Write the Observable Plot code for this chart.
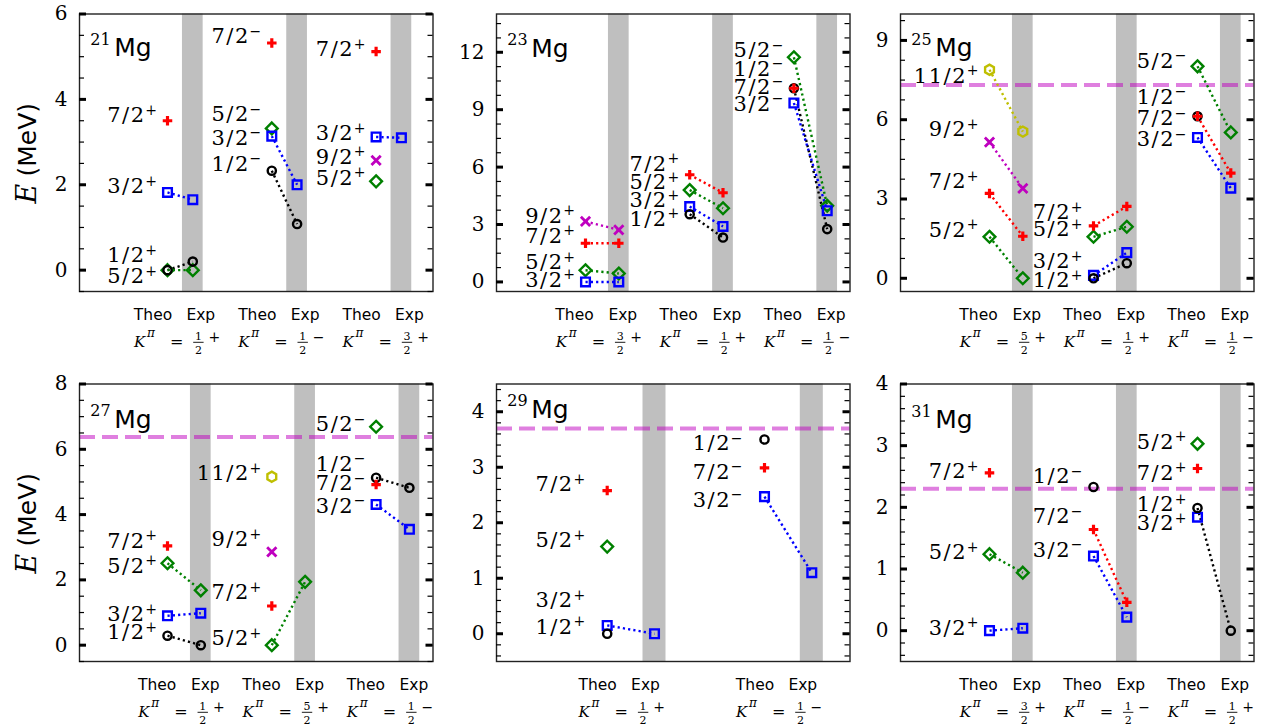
<!DOCTYPE html>
<html><head><meta charset="utf-8">
<script src="https://cdn.jsdelivr.net/npm/d3@7"></script>
<script src="https://cdn.jsdelivr.net/npm/@observablehq/plot@0.6"></script>
<style>
body{margin:0;background:#fff;}
#fig{position:relative;width:1267px;height:727px;overflow:hidden;background:#fff;}
.panel{position:absolute;}
[aria-description="lbl"] text{letter-spacing:1.5px;}
</style></head><body><div id="fig"></div>
<script>
// ---------------- data ----------------
const isotopes = ["21", "23", "25", "27", "29", "31"];
// K^pi of each band: [numerator of K/2, parity]
const bandK = [
  [["1","+"],["1","−"],["3","+"]],
  [["3","+"],["1","+"],["1","−"]],
  [["5","+"],["1","+"],["1","−"]],
  [["1","+"],["5","+"],["1","−"]],
  [["1","+"],["1","−"]],
  [["3","+"],["1","−"],["1","+"]]
];
const separationEnergy = [null, null, 7.31, 6.38, 3.70, 2.30];
const yDomains = [[-0.5, 6], [-0.5, 14], [-0.5, 10], [-0.5, 8], [-0.5, 4.5], [-0.5, 4]];
const yMajorTicks = [[0,2,4,6], [0,3,6,9,12], [0,3,6,9], [0,2,4,6,8], [0,1,2,3,4], [0,1,2,3,4]];
const yMinorStep = [0.5, 0.75, 0.75, 0.5, 0.2, 0.2];

// theory: [band, J, parity, E (MeV), label E]
const theo21 = [
  [0,"1/2","+",0.00,0.18],[0,"5/2","+",0.00,-0.31],[0,"3/2","+",1.82,1.80],[0,"7/2","+",3.50,3.46],
  [1,"7/2","−",5.32,5.31],[1,"5/2","−",3.32,3.49],[1,"3/2","−",3.14,2.94],[1,"1/2","−",2.33,2.33],
  [2,"7/2","+",5.12,5.01],[2,"3/2","+",3.12,3.04],[2,"9/2","+",2.57,2.49],[2,"5/2","+",2.08,2.00]
];
const exp21 = [[0,"1/2",0.20],[0,"5/2",0.00],[0,"3/2",1.65],[1,"3/2",2.00],[1,"1/2",1.08],[2,"3/2",3.10]];

const theo23 = [
  [0,"3/2","+",0.00,-0.26],[0,"5/2","+",0.61,0.66],[0,"7/2","+",2.02,2.06],[0,"9/2","+",3.16,3.10],
  [1,"7/2","+",5.60,5.81],[1,"5/2","+",4.80,4.85],[1,"3/2","+",3.94,3.89],[1,"1/2","+",3.54,2.93],
  [2,"5/2","−",11.74,11.74],[2,"1/2","−",10.12,10.77],[2,"7/2","−",10.12,9.82],[2,"3/2","−",9.35,8.95]
];
const exp23 = [[0,"3/2",0.00],[0,"5/2",0.44],[0,"7/2",2.02],[0,"9/2",2.72],
  [1,"7/2",4.66],[1,"5/2",3.85],[1,"3/2",2.90],[1,"1/2",2.32],
  [2,"5/2",3.98],[2,"3/2",3.72],[2,"1/2",2.76]];

const theo25 = [
  [0,"11/2","+",7.89,7.39],[0,"9/2","+",5.15,5.37],[0,"7/2","+",3.21,3.41],[0,"5/2","+",1.57,1.58],
  [1,"7/2","+",1.98,2.23],[1,"5/2","+",1.57,1.60],[1,"3/2","+",0.11,0.38],[1,"1/2","+",0.00,-0.34],
  [2,"5/2","−",8.02,7.96],[2,"1/2","−",6.13,6.60],[2,"7/2","−",6.13,5.80],[2,"3/2","−",5.33,4.99]
];
const exp25 = [[0,"11/2",5.55],[0,"9/2",3.40],[0,"7/2",1.59],[0,"5/2",0.00],
  [1,"7/2",2.72],[1,"5/2",1.95],[1,"3/2",0.97],[1,"1/2",0.57],
  [2,"5/2",5.52],[2,"7/2",3.98],[2,"3/2",3.41]];

const theo27 = [
  [0,"7/2","+",3.04,2.99],[0,"5/2","+",2.51,2.22],[0,"3/2","+",0.90,0.74],[0,"1/2","+",0.29,0.18],
  [1,"11/2","+",5.16,5.05],[1,"9/2","+",2.86,3.03],[1,"7/2","+",1.20,1.40],[1,"5/2","+",0.00,0.00],
  [2,"5/2","−",6.69,6.55],[2,"1/2","−",5.13,5.35],[2,"7/2","−",4.92,4.74],[2,"3/2","−",4.31,4.06]
];
const exp27 = [[0,"5/2",1.68],[0,"3/2",0.98],[0,"1/2",0.00],[1,"5/2",1.94],[2,"1/2",4.82],[2,"3/2",3.55]];

const theo29 = [
  [0,"7/2","+",2.58,2.57],[0,"5/2","+",1.57,1.56],[0,"3/2","+",0.15,0.48],[0,"1/2","+",0.00,0.00],
  [1,"1/2","−",3.50,3.31],[1,"7/2","−",2.99,2.79],[1,"3/2","−",2.47,2.29]
];
const exp29 = [[0,"3/2",0.00],[1,"3/2",1.10]];

const theo31 = [
  [0,"7/2","+",2.56,2.47],[0,"5/2","+",1.24,1.16],[0,"3/2","+",0.00,-0.07],
  [1,"1/2","−",2.33,2.39],[1,"7/2","−",1.64,1.74],[1,"3/2","−",1.21,1.20],
  [2,"5/2","+",3.03,2.95],[2,"7/2","+",2.63,2.45],[2,"1/2","+",1.99,1.94],[2,"3/2","+",1.84,1.63]
];
const exp31 = [[0,"5/2",0.94],[0,"3/2",0.04],[1,"7/2",0.46],[1,"3/2",0.22],[2,"1/2",0.00]];

const theoStates = [theo21, theo23, theo25, theo27, theo29, theo31];
const expStates = [exp21, exp23, exp25, exp27, exp29, exp31];

// ---------------- styles / layout ----------------
const spinStyle = {
  "5/2": {symbol: "diamond2", stroke: "#008000", r: 5.3, sw: 2.4},
  "3/2": {symbol: "square", stroke: "#0000ff", r: 4.9, sw: 2.4},
  "1/2": {symbol: "circle", stroke: "#000000", r: 4.1, sw: 2.4},
  "11/2": {symbol: "hexagon", stroke: "#bfbf00", r: 4.4, sw: 2.4},
  "9/2": {symbol: "times", stroke: "#bf00bf", r: 4.3, sw: 2.8},
  "7/2": {symbol: "cross", fill: "#ff0000", r: 4.0, sw: 0}
};
const spinOrder = ["5/2", "3/2", "1/2", "11/2", "9/2", "7/2"];

const layouts = [
  {theo0: 88, step: 104.3, gap: 25.3, half: 10.35, lo: -10.5, ta: -14.5, eb: 8, titleDy: 42},
  {theo0: 89, step: 104.2, gap: 33.3, half: 10.35, lo: -10.5, ta: -11, eb: 4, titleDy: 42.5},
  {theo0: 89, step: 104, gap: 33.3, half: 10.35, lo: -11, ta: -11, eb: 4, titleDy: 42},
  {theo0: 88, step: 104.3, gap: 33.3, half: 10.35, lo: -10.5, ta: -10.3, eb: 4.5, titleDy: 43.5},
  {theo0: 110.7, step: 157.3, gap: 47.3, half: 11.5, lo: -22, ta: -9.5, eb: -9, titleDy: 33.5},
  {theo0: 89, step: 104, gap: 33.3, half: 10.35, lo: -11, ta: -11, eb: 4, titleDy: 44}
];
const placement = [[0, 0], [417.3, 0], [821, 0], [0, 369.5], [417.3, 369.5], [821, 369.5]];

const W = 353.5, H = 277.5, mL = 79, mT = 13.5, mR = 8, mB = 69;
const serif = "DejaVu Serif", sans = "DejaVu Sans";
const barSymbol = {draw(ctx) { ctx.moveTo(-5.2, 0); ctx.lineTo(5.2, 0); }};

function makePanel(i) {
  const L = layouts[i], th = theoStates[i], ex = expStates[i], dom = yDomains[i];
  const bands = d3.range(bandK[i].length);
  const xT = b => L.theo0 + b * L.step;
  const xE = b => xT(b) + L.gap;
  const kc = b => (xT(b) + L.ta + xE(b) + L.eb) / 2 + 1;
  const links = th.map(t => {
    const e = ex.find(e => e[0] === t[0] && e[1] === t[1]);
    return e ? {x1: xT(t[0]), x2: xE(e[0]), y1: t[3], y2: e[2], s: t[1]} : null;
  }).filter(Boolean);
  const pts = [...th.map(t => ({x: xT(t[0]), y: t[3], s: t[1]})), ...ex.map(e => ({x: xE(e[0]), y: e[2], s: e[1]}))];
  const st = yMinorStep[i];
  const minor = d3.range(Math.ceil(dom[0] / st - 1e-9), Math.floor(dom[1] / st + 1e-9) + 1).map(k => +(k * st).toFixed(4));
  const majors = yMajorTicks[i];

  const marks = [
    Plot.rect(bands, {x1: b => xE(b) - L.half, x2: b => xE(b) + L.half, y1: dom[0], y2: dom[1], fill: "#bfbfbf"})
  ];
  if (separationEnergy[i] != null) {
    marks.push(Plot.ruleY([separationEnergy[i]], {stroke: "#bf00bf", strokeOpacity: 0.5, strokeWidth: 4, strokeDasharray: "16,7"}));
  }
  marks.push(Plot.link(links, {x1: "x1", x2: "x2", y1: "y1", y2: "y2", stroke: d => spinStyle[d.s].stroke || spinStyle[d.s].fill, strokeWidth: 2.4, strokeDasharray: "2.2,3.1"}));
  for (const s of spinOrder) {
    const S = spinStyle[s];
    const data = pts.filter(p => p.s === s);
    if (!data.length) continue;
    marks.push(Plot.dot(data, S.fill
      ? {x: "x", y: "y", symbol: S.symbol, r: S.r, fill: S.fill, stroke: "none"}
      : {x: "x", y: "y", symbol: S.symbol, r: S.r, stroke: S.stroke, fill: "none", strokeWidth: S.sw}));
  }
  // level labels
  marks.push(Plot.text(th, {x: t => xT(t[0]), y: t => t[4], text: t => t[1], textAnchor: "end", lineAnchor: "bottom",
    dx: L.lo - 11.5, fontFamily: serif, fontSize: 21, ariaDescription: "lbl"}));
  marks.push(Plot.text(th, {x: t => xT(t[0]), y: t => t[4], text: t => t[2], textAnchor: "end", lineAnchor: "bottom",
    dx: L.lo, dy: -7.5, fontFamily: serif, fontSize: 14}));
  // frame and ticks
  marks.push(Plot.frame({stroke: "#222", strokeWidth: 1.4}));
  marks.push(Plot.tickY(minor, {y: d => d, insetRight: W - 5, strokeWidth: 1.2, stroke: "#000"}));
  marks.push(Plot.tickY(minor, {y: d => d, insetLeft: W - 5, strokeWidth: 1.2, stroke: "#000"}));
  marks.push(Plot.tickY(majors, {y: d => d, insetRight: W - 7, strokeWidth: 3, stroke: "#000"}));
  marks.push(Plot.tickY(majors, {y: d => d, insetLeft: W - 7, strokeWidth: 3, stroke: "#000"}));
  marks.push(Plot.axisY({ticks: majors, tickSize: 0, tickPadding: 12, fontFamily: serif, fontSize: 20, label: null, tickFormat: d => String(d)}));
  // isotope title
  marks.push(Plot.text([isotopes[i]], {frameAnchor: "top-left", dx: 10.7, dy: L.titleDy - 11.5, textAnchor: "start", lineAnchor: "bottom", fontFamily: serif, fontSize: 16}));
  marks.push(Plot.text(["Mg"], {frameAnchor: "top-left", dx: 34.7, dy: L.titleDy, textAnchor: "start", lineAnchor: "bottom", fontFamily: sans, fontSize: 25}));
  // Theo / Exp labels
  marks.push(Plot.text(bands, {x: b => xT(b) + L.ta, frameAnchor: "bottom", dy: 28.3, lineAnchor: "bottom", text: () => "Theo", fontFamily: sans, fontSize: 15.5}));
  marks.push(Plot.text(bands, {x: b => xE(b) + L.eb, frameAnchor: "bottom", dy: 28.3, lineAnchor: "bottom", text: () => "Exp", fontFamily: sans, fontSize: 15.5}));
  // K^pi labels
  marks.push(Plot.text(bands, {x: kc, frameAnchor: "bottom", dx: -44, dy: 55.5, textAnchor: "start", lineAnchor: "bottom", text: () => "K", fontFamily: serif, fontStyle: "italic", fontSize: 15}));
  marks.push(Plot.text(bands, {x: kc, frameAnchor: "bottom", dx: -31, dy: 45, textAnchor: "start", lineAnchor: "bottom", text: () => "π", fontFamily: serif, fontStyle: "italic", fontSize: 12}));
  marks.push(Plot.text(bands, {x: kc, frameAnchor: "bottom", dx: -8, dy: 55, textAnchor: "start", lineAnchor: "bottom", text: () => "=", fontFamily: serif, fontSize: 16}));
  marks.push(Plot.text(bands, {x: kc, frameAnchor: "bottom", dx: 20.5, dy: 48.7, lineAnchor: "bottom", text: b => bandK[i][b][0], fontFamily: serif, fontSize: 11}));
  marks.push(Plot.dot(bands, {x: kc, frameAnchor: "bottom", dx: 20.5, dy: 50.8, symbol: barSymbol, r: 5, stroke: "#000", strokeWidth: 0.9}));
  marks.push(Plot.text(bands, {x: kc, frameAnchor: "bottom", dx: 20.5, dy: 62.5, lineAnchor: "bottom", text: () => "2", fontFamily: serif, fontSize: 11}));
  marks.push(Plot.text(bands, {x: kc, frameAnchor: "bottom", dx: 36.5, dy: 50, lineAnchor: "bottom", text: b => bandK[i][b][1], fontFamily: serif, fontSize: 14}));
  // y label
  if (i % 3 === 0) {
    marks.push(Plot.text(["E"], {frameAnchor: "left", rotate: -90, dx: -43.5, dy: 41, textAnchor: "middle", lineAnchor: "bottom", fontFamily: serif, fontStyle: "italic", fontSize: 27}));
    marks.push(Plot.text(["(MeV)"], {frameAnchor: "left", rotate: -90, dx: -43.5, dy: -13, textAnchor: "middle", lineAnchor: "bottom", fontFamily: sans, fontSize: 25}));
  }

  return Plot.plot({
    width: mL + W + mR, height: mT + H + mB,
    marginLeft: mL, marginTop: mT, marginRight: mR, marginBottom: mB,
    x: {domain: [0, W], axis: null},
    y: {domain: dom},
    style: {background: "transparent", fontFamily: serif, fontSize: "20px", color: "#000", overflow: "visible", maxWidth: "none"},
    marks
  });
}

const fig = document.getElementById("fig");
for (let i = 0; i < 6; i++) {
  const div = document.createElement("div");
  div.className = "panel";
  div.style.left = placement[i][0] + "px";
  div.style.top = placement[i][1] + "px";
  div.style.width = (mL + W + mR) + "px";
  div.appendChild(makePanel(i));
  fig.appendChild(div);
}
</script></body></html>
